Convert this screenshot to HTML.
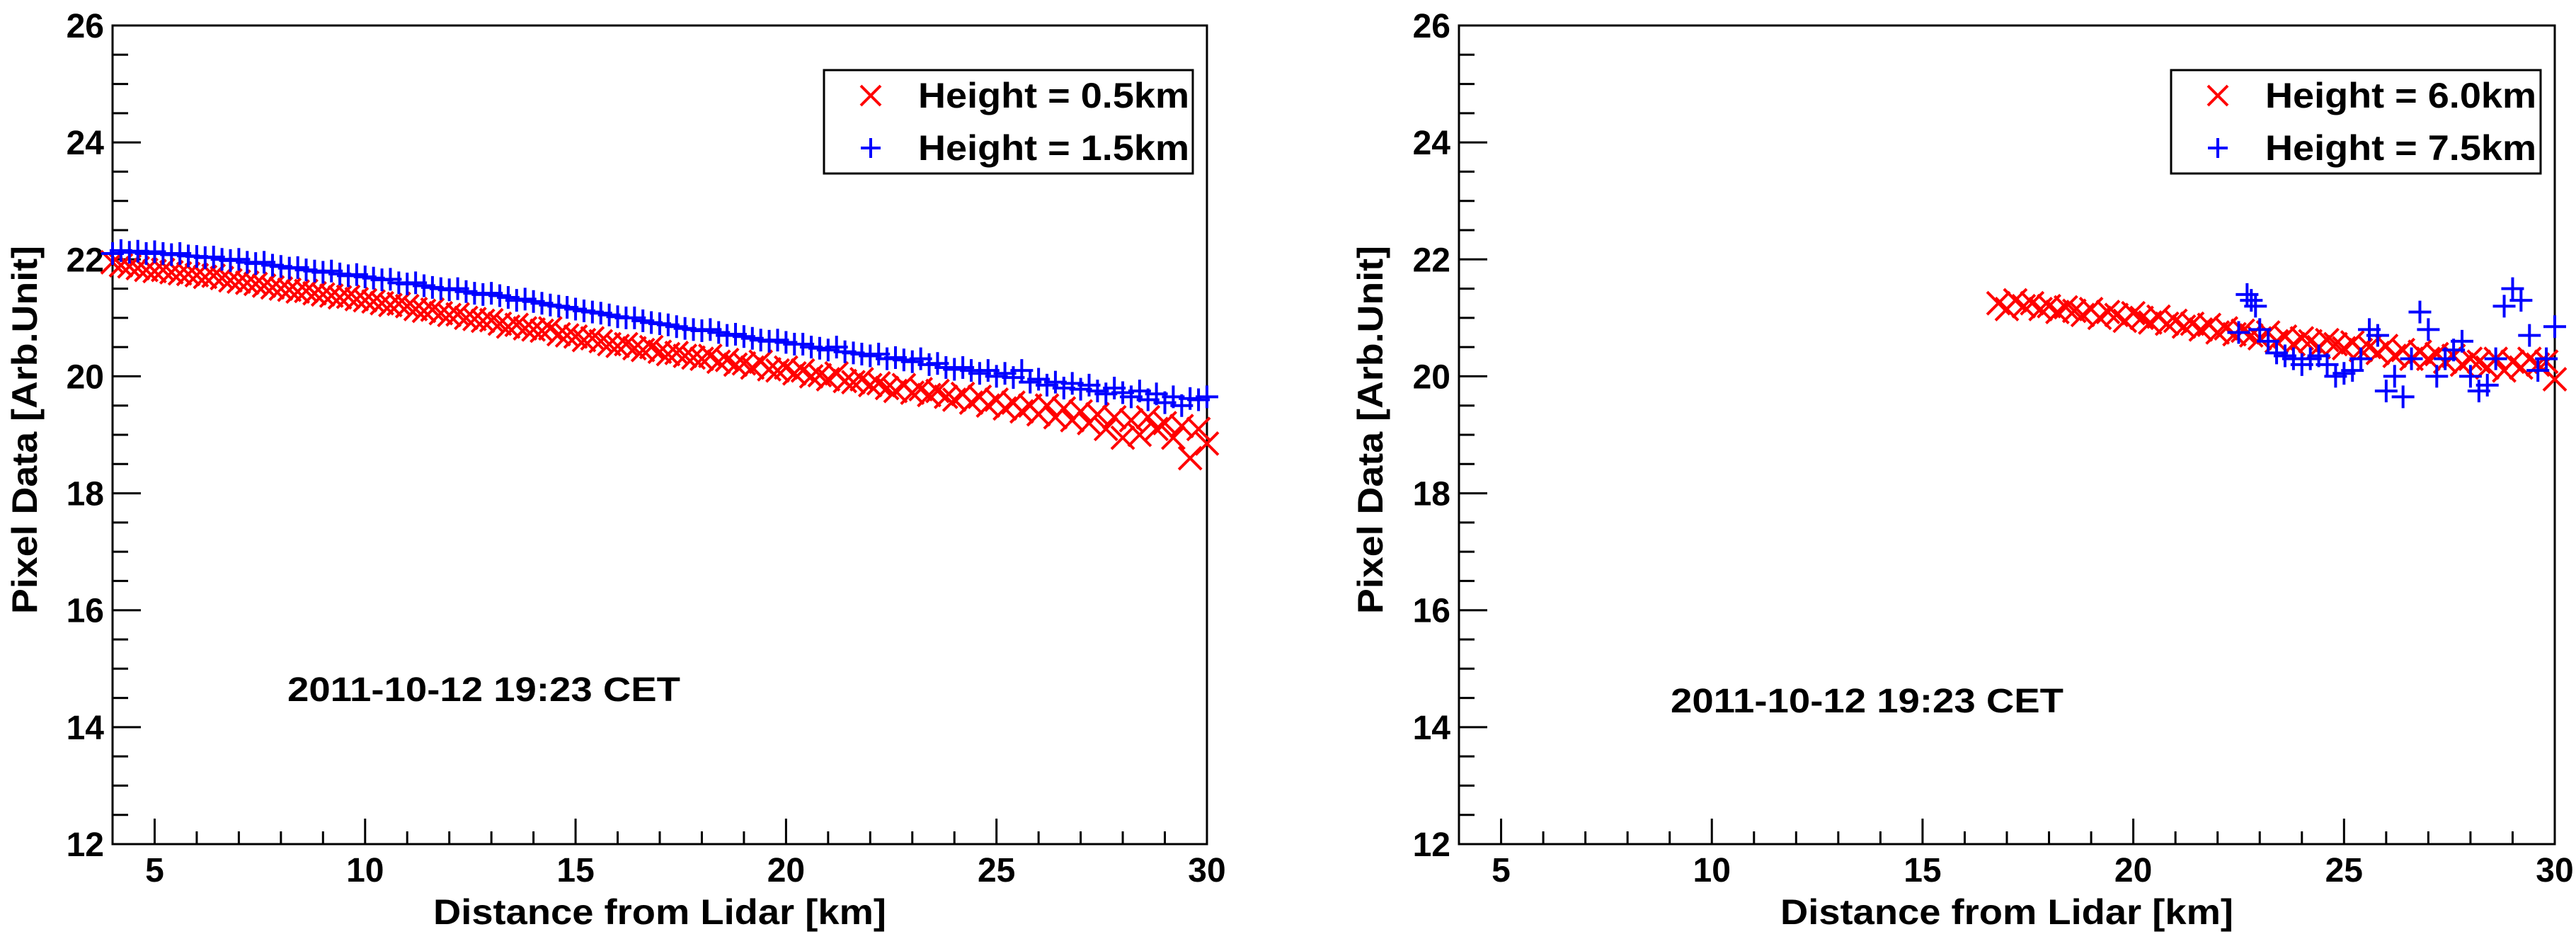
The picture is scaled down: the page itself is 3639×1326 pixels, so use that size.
<!DOCTYPE html>
<html><head><meta charset="utf-8"><style>
html,body{margin:0;padding:0;background:#fff;}
svg{display:block;}
text{font-family:"Liberation Sans",sans-serif;font-weight:bold;fill:#000;}
</style></head><body>
<svg id="svg" width="3639" height="1326" viewBox="0 0 3639 1326" xmlns="http://www.w3.org/2000/svg"></svg>
<script>
const xStart1 = 4, xStep = 0.2;
const redLeft = [21.95,21.9,21.88,21.85,21.82,21.8,21.82,21.78,21.76,21.75,
21.73,21.7,21.72,21.68,21.64,21.62,21.6,21.58,21.55,21.52,
21.5,21.48,21.45,21.46,21.42,21.4,21.38,21.35,21.36,21.32,
21.3,21.28,21.25,21.22,21.24,21.2,21.15,21.12,21.14,21.08,
21.05,21.06,21.0,20.98,20.95,20.96,20.9,20.85,20.88,20.82,
20.8,20.78,20.82,20.72,20.7,20.68,20.62,20.65,20.6,20.55,
20.52,20.55,20.48,20.45,20.5,20.42,20.38,20.4,20.35,20.32,
20.3,20.35,20.25,20.28,20.2,20.22,20.15,20.25,20.12,20.1,
20.15,20.05,20.1,20.0,20.02,19.95,20.05,19.92,19.9,19.95,
19.85,19.88,19.8,19.75,19.85,19.72,19.78,19.68,19.75,19.65,
19.6,19.7,19.55,19.65,19.5,19.6,19.45,19.55,19.4,19.5,
19.35,19.5,19.3,19.45,19.25,19.4,19.2,19.35,19.1,19.3,
18.95,19.25,19.0,19.3,19.1,19.2,18.95,19.15,18.6,19.1,
18.85];
const blueLeft = [22.1,22.15,22.12,22.14,22.1,22.13,22.1,22.08,22.1,22.06,
22.05,22.03,22.04,22.0,21.98,22.0,21.95,21.93,21.95,21.9,
21.88,21.85,21.86,21.82,21.8,21.78,21.8,21.75,21.72,21.74,
21.7,21.68,21.65,21.66,21.6,21.58,21.6,21.55,21.52,21.5,
21.48,21.5,21.45,21.42,21.4,21.42,21.38,21.35,21.3,21.32,
21.28,21.25,21.22,21.2,21.18,21.15,21.12,21.1,21.08,21.05,
21.02,21.0,21.0,20.95,20.92,20.9,20.88,20.85,20.82,20.8,
20.78,20.8,20.75,20.7,20.72,20.68,20.65,20.62,20.6,20.62,
20.58,20.55,20.55,20.5,20.48,20.45,20.5,20.42,20.4,20.38,
20.35,20.38,20.3,20.32,20.28,20.25,20.3,20.2,20.22,20.15,
20.12,20.15,20.1,20.05,20.1,20.0,20.05,19.98,20.1,19.9,
19.95,19.85,19.9,19.8,19.88,19.78,19.85,19.75,19.7,19.8,
19.72,19.65,19.75,19.6,19.7,19.55,19.65,19.5,19.62,19.6,
19.65];
const xStartRedRight = 16.8;
const redRight = [21.25,21.15,21.3,21.2,21.25,21.15,21.2,21.1,21.18,21.12,
21.05,21.15,21.0,21.1,21.05,20.95,21.08,21.0,20.92,21.02,
20.9,20.95,20.85,20.9,20.8,20.88,20.75,20.82,20.72,20.78,
20.7,20.65,20.75,20.6,20.68,20.55,20.65,20.6,20.5,20.62,
20.55,20.48,20.58,20.45,20.5,20.4,20.52,20.35,20.45,20.3,
20.42,20.3,20.38,20.25,20.35,20.2,20.3,20.25,20.15,20.3,
20.1,20.25,20.15,20.3,20.2,20.25,19.95];
const blueRightX = [22.5,22.7,22.8,22.9,23.0,23.2,23.4,23.6,23.8,24.0,24.2,24.4,24.6,24.8,25.0,25.2,25.4,25.6,25.8,26.0,26.2,26.4,26.6,26.8,27.0,27.2,27.4,27.6,27.8,28.0,28.2,28.4,28.6,28.8,29.0,29.2,29.4,29.6,29.8,30.0];
const blueRightY = [20.75,21.4,21.3,21.2,20.8,20.6,20.4,20.35,20.3,20.2,20.3,20.35,20.2,20.0,20.05,20.1,20.3,20.8,20.7,19.75,20.0,19.65,20.3,21.1,20.8,20.0,20.3,20.45,20.6,20.0,19.75,19.85,20.3,21.2,21.5,21.3,20.7,20.1,20.3,20.85];
const yTicks = [12,14,16,18,20,22,24,26];
const xTicks = [5,10,15,20,25,30];
const legendLeft = ["Height = 0.5km","Height = 1.5km"];
const legendRight = ["Height = 6.0km","Height = 7.5km"];

const NS="http://www.w3.org/2000/svg";
const svg=document.getElementById('svg');
function mk(tag,attrs,parent){const e=document.createElementNS(NS,tag);for(const k in attrs)e.setAttribute(k,attrs[k]);(parent||svg).appendChild(e);return e;}

function drawMarker(g,kind,cx,cy,s,color){
  if(kind==='x'){
    mk('path',{d:`M${cx-s} ${cy-s}L${cx+s} ${cy+s}M${cx-s} ${cy+s}L${cx+s} ${cy-s}`,stroke:color,'stroke-width':4,fill:'none'},g);
  } else {
    mk('path',{d:`M${cx-s} ${cy}L${cx+s} ${cy}M${cx} ${cy-s}L${cx} ${cy+s}`,stroke:color,'stroke-width':4,fill:'none'},g);
  }
}

function panel(L,R,name,legend,legX0,legX1,dateX,dateY,ytX){
  const T=36,B=1192,x0=4,x1=30,y0=12,y1=26;
  const sx=v=>L+(v-x0)/(x1-x0)*(R-L);
  const sy=v=>B-(v-y0)/(y1-y0)*(B-T);
  const g=mk('g',{});
  
  
  const fr=mk('rect',{x:L,y:T,width:R-L,height:B-T,fill:'none',stroke:'#000','stroke-width':3},g);
  
  
  for(let v=12;v<=26.001;v+=0.5){
    const maj=Math.abs(v-Math.round(v))<1e-6&&Math.round(v)%2===0;
    mk('line',{x1:L,x2:L+(maj?40:22),y1:sy(v),y2:sy(v),stroke:'#000','stroke-width':3},g);
  }
  for(let v=5;v<=30;v+=1){
    const maj=v%5===0;
    mk('line',{x1:sx(v),x2:sx(v),y1:B,y2:B-(maj?36:18),stroke:'#000','stroke-width':3},g);
  }
  yTicks.forEach(v=>{const t=mk('text',{x:L-12,y:sy(v)+17,'text-anchor':'end','font-size':48},g);t.textContent=v;
    });
  xTicks.forEach(v=>{const t=mk('text',{x:sx(v),y:1245,'text-anchor':'middle','font-size':48},g);t.textContent=v;
    });
  const xt=mk('text',{x:(L+R)/2,y:1305,'text-anchor':'middle','font-size':50,textLength:640,lengthAdjust:'spacingAndGlyphs'},g);
  xt.textContent='Distance from Lidar [km]';
  
  const yt=mk('text',{x:0,y:0,'text-anchor':'middle','font-size':50,textLength:520,lengthAdjust:'spacingAndGlyphs',transform:`translate(${ytX},607) rotate(-90)`},g);
  yt.textContent='Pixel Data [Arb.Unit]';
  
  const dt=mk('text',{x:dateX,y:dateY,'font-size':48,textLength:555,lengthAdjust:'spacingAndGlyphs'},g);
  dt.textContent='2011-10-12 19:23 CET';
  
  const lg=mk('g',{},g);
  
  mk('rect',{x:legX0,y:99,width:legX1-legX0,height:146,fill:'#fff',stroke:'#000','stroke-width':3},lg);
  const cols=['#ff0000','#0000ff'],kinds=['x','+'];
  [135,209].forEach((yy,i)=>{
    const e=mk('g',{},lg);
    
    drawMarker(e,kinds[i],legX0+66,yy,14,cols[i]);
    const t=mk('text',{x:legX0+133,y:yy+17,'font-size':50,textLength:383,lengthAdjust:'spacingAndGlyphs'},e);
    t.textContent=legend[i];
  });
  return {sx,sy,g};
}

const P1=panel(159,1705,'left',legendLeft,1164,1685,406,990,52);
const P2=panel(2061,3609,'right',legendRight,3067,3589,2360,1006,1953);

function series(P,xs,ys,kind,color,name){
  const g=mk('g',{},P.g);
  
  
  ys.forEach((v,i)=>drawMarker(g,kind,P.sx(xs[i]),P.sy(v),16,color));
}
const xsL=redLeft.map((_,i)=>xStart1+i*xStep);
series(P1,xsL,redLeft,'x','#ff0000','series-height-0.5km');
series(P1,xsL,blueLeft,'+','#0000ff','series-height-1.5km');
const xsR=redRight.map((_,i)=>xStartRedRight+i*xStep);
series(P2,xsR,redRight,'x','#ff0000','series-height-6.0km');
series(P2,blueRightX,blueRightY,'+','#0000ff','series-height-7.5km');
</script>
</body></html>
